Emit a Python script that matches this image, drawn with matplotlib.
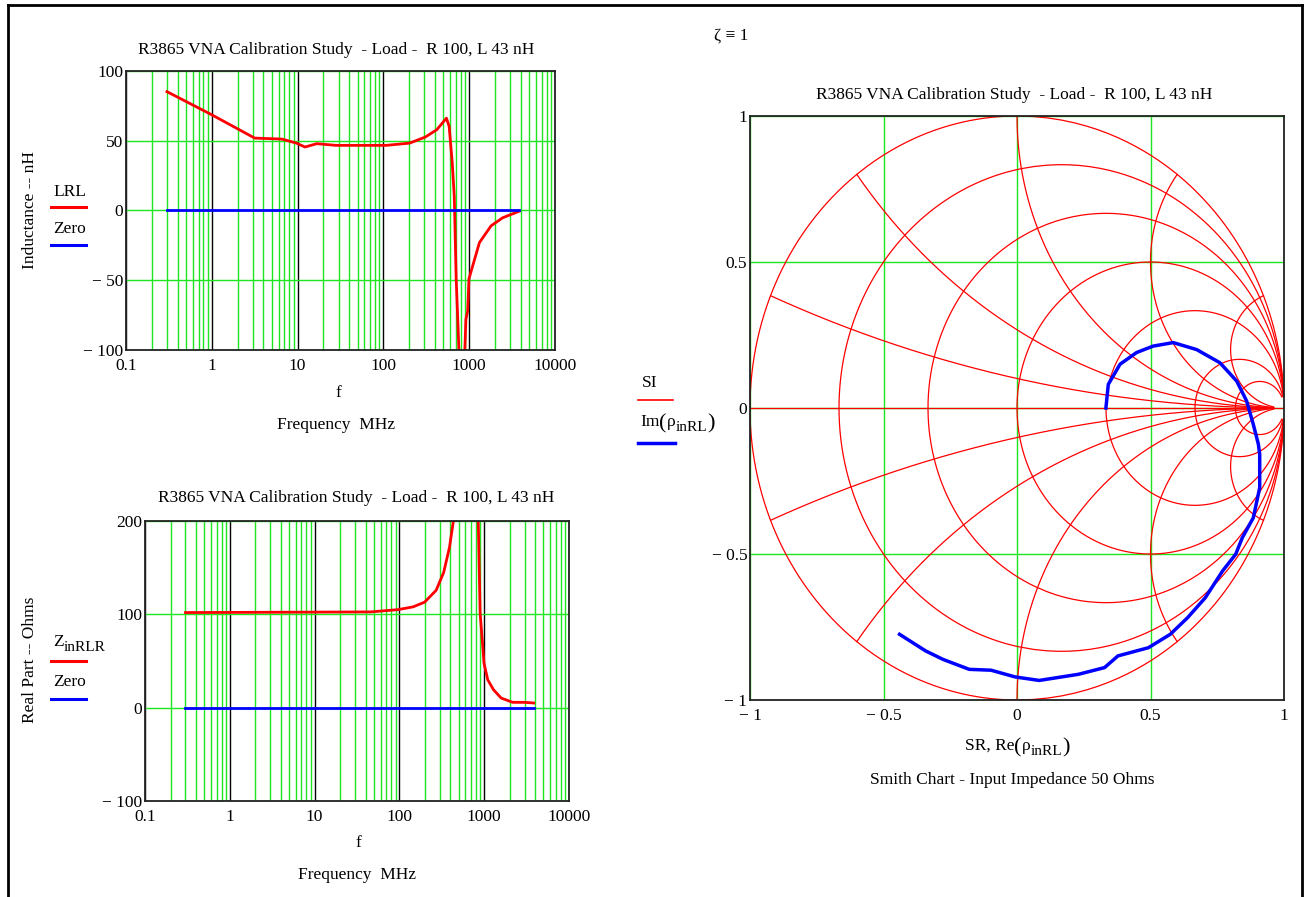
import numpy as np
import matplotlib
matplotlib.use('Agg')
import matplotlib.pyplot as plt
from matplotlib.lines import Line2D

plt.rcParams['font.family'] = ['Liberation Serif', 'DejaVu Serif']

# ---- data ----
# top plot: inductance LRL (nH) vs frequency (MHz)
f_L = [0.3, 1.0, 3.16, 6.55, 9.7, 12.2, 16.7, 28, 108, 202, 307, 419, 543,
       584, 635, 670, 705, 743, 790, 868, 915, 960, 993, 1316, 1798, 2455, 3838]
LRL = [85.2, 68.6, 51.9, 51.2, 48.3, 45.5, 47.9, 46.7, 46.7, 48.3, 52.6, 57.9,
       66.2, 60.2, 34, 10, -49, -85, -130, -120, -78, -72, -49, -23, -11, -5.2, -0.5]

# bottom plot: real part of Z_inRLR (Ohms) vs frequency (MHz)
f_R = [0.3, 46, 95.7, 145, 198, 271, 333, 390, 433, 600, 851, 896, 963, 994,
       1102, 1288, 1585, 2170, 2960, 3838]
ZinRLR = [101.9, 102.6, 105, 108, 113, 125.7, 145, 172, 200, 900, 200, 100.8,
          65, 47.6, 29.8, 19.2, 10.3, 5.7, 5.7, 5.0]

zero_f = [0.3, 3838]
zero_v = [0, 0]

# reflection coefficient rho_inRL on the Smith chart
rho_re = [0.333, 0.342, 0.386, 0.448, 0.51, 0.585, 0.673, 0.76, 0.823, 0.86,
          0.885, 0.904, 0.909, 0.909, 0.885, 0.844, 0.819, 0.77, 0.705, 0.639,
          0.574, 0.492, 0.378, 0.328, 0.23, 0.083, -0.007, -0.097, -0.179,
          -0.277, -0.342, -0.44]
rho_im = [0.0, 0.081, 0.15, 0.19, 0.212, 0.224, 0.2, 0.155, 0.092, 0.024,
          -0.056, -0.124, -0.159, -0.273, -0.376, -0.444, -0.501, -0.558, -0.65,
          -0.718, -0.775, -0.821, -0.849, -0.889, -0.912, -0.933, -0.921, -0.898,
          -0.895, -0.861, -0.832, -0.775]

# Smith chart grid values
r_vals = [0, 0.2, 0.5, 1, 2, 5, 10]
x_vals = [0.2, 0.5, 1, 2, 5, -0.2, -0.5, -1, -2, -5]
r_max = 50

W, H = 1305, 897
GREEN = '#1ee61e'
RED = '#ff0000'
BLUE = '#0000ff'
FS = 12.5


def px(x, y):
    return x / W, 1 - y / H


fig = plt.figure(figsize=(W / 100, H / 100), dpi=100)
renderer = fig.canvas.get_renderer()


def rich(x, y, parts, center=False):
    # parts: (text, fontsize, baseline shift in px, downwards positive)
    texts = []
    cur = x
    for s, size, dy in parts:
        t = fig.text(cur / W, 1 - (y + dy) / H, s, fontsize=size, ha='left', va='baseline')
        cur += t.get_window_extent(renderer).width
        texts.append(t)
    if center:
        shift = (cur - x) / 2
        for t in texts:
            tx, ty = t.get_position()
            t.set_position((tx - shift / W, ty))


# page border
fig.add_artist(Line2D([8 / W, 8 / W], [0, 1 - 5 / H], color='black', lw=2, transform=fig.transFigure))
fig.add_artist(Line2D([8 / W, 1302 / W], [1 - 5 / H, 1 - 5 / H], color='black', lw=2, transform=fig.transFigure))
fig.add_artist(Line2D([1302 / W, 1302 / W], [0, 1 - 5 / H], color='black', lw=2, transform=fig.transFigure))


def log_axes(rect, ylim, yticks, ylabels):
    ax = fig.add_axes(rect)
    ax.set_xscale('log')
    ax.set_xlim(0.1, 10000)
    ax.set_ylim(*ylim)
    ax.set_xticks([0.1, 1, 10, 100, 1000, 10000])
    ax.set_xticklabels(['0.1', '1', '10', '100', '1000', '10000'])
    ax.set_yticks(yticks)
    ax.set_yticklabels(ylabels)
    ax.grid(which='minor', axis='x', color=GREEN, lw=1)
    ax.grid(which='major', axis='x', color='black', lw=1)
    ax.grid(which='major', axis='y', color=GREEN, lw=1)
    ax.set_axisbelow(True)
    ax.tick_params(which='both', length=0, labelsize=FS)
    ax.tick_params(axis='x', pad=6)
    ax.tick_params(axis='y', pad=2)
    for s in ax.spines.values():
        s.set_color('#222222')
        s.set_linewidth(1.3)
    return ax


title = 'R3865 VNA Calibration Study  - Load -  R 100, L 43 nH'

# ---- top left: inductance ----
ax1 = log_axes([126 / W, 1 - 350 / H, 429 / W, 279 / H], (-100, 100),
               [-100, -50, 0, 50, 100], ['\u2212 100', '\u2212 50', '0', '50', '100'])
ax1.plot(f_L, LRL, color=RED, lw=2)
ax1.plot(zero_f, zero_v, color=BLUE, lw=2)
fig.text(*px(336, 50), title, ha='center', va='center', fontsize=FS)
fig.text(*px(338, 393), 'f', ha='center', va='center', fontsize=FS)
fig.text(*px(336, 425), 'Frequency  MHz', ha='center', va='center', fontsize=FS)
fig.text(*px(30, 210), 'Inductance -- nH', ha='center', va='center', rotation=90, fontsize=FS)
fig.text(*px(53, 192), 'LRL', ha='left', va='center', fontsize=FS)
fig.add_artist(Line2D([51 / W, 86 / W], [1 - 207 / H] * 2, color=RED, lw=2.2, transform=fig.transFigure))
fig.text(*px(53, 229), 'Zero', ha='left', va='center', fontsize=FS)
fig.add_artist(Line2D([51 / W, 86 / W], [1 - 245 / H] * 2, color=BLUE, lw=2.2, transform=fig.transFigure))

# ---- bottom left: real part ----
ax2 = log_axes([145 / W, 1 - 801 / H, 424 / W, 280 / H], (-100, 200),
               [-100, 0, 100, 200], ['\u2212 100', '0', '100', '200'])
ax2.plot(f_R, ZinRLR, color=RED, lw=2)
ax2.plot(zero_f, zero_v, color=BLUE, lw=2)
fig.text(*px(356, 498), title, ha='center', va='center', fontsize=FS)
fig.text(*px(358, 843), 'f', ha='center', va='center', fontsize=FS)
fig.text(*px(357, 875), 'Frequency  MHz', ha='center', va='center', fontsize=FS)
fig.text(*px(30, 660), 'Real Part -- Ohms', ha='center', va='center', rotation=90, fontsize=FS)
rich(53, 646, [('Z', FS, 0), ('inRLR', 11, 5)])
fig.add_artist(Line2D([51 / W, 86 / W], [1 - 661 / H] * 2, color=RED, lw=2.2, transform=fig.transFigure))
fig.text(*px(53, 682), 'Zero', ha='left', va='center', fontsize=FS)
fig.add_artist(Line2D([51 / W, 86 / W], [1 - 699 / H] * 2, color=BLUE, lw=2.2, transform=fig.transFigure))

# ---- right: Smith chart ----
ax3 = fig.add_axes([750 / W, 1 - 700 / H, 534 / W, 584 / H])
ax3.set_xlim(-1, 1)
ax3.set_ylim(-1, 1)
ticks = [-1, -0.5, 0, 0.5, 1]
tlabels = ['\u2212 1', '\u2212 0.5', '0', '0.5', '1']
ax3.set_xticks(ticks)
ax3.set_xticklabels(tlabels)
ax3.set_yticks(ticks)
ax3.set_yticklabels(tlabels)
ax3.grid(color=GREEN, lw=1)
ax3.set_axisbelow(True)
ax3.tick_params(length=0, labelsize=FS)
ax3.tick_params(axis='x', pad=6)
ax3.tick_params(axis='y', pad=2)
for s in ax3.spines.values():
    s.set_color('#222222')
    s.set_linewidth(1.3)

xs = np.concatenate([np.linspace(-r_max, -1, 800), np.linspace(-1, 1, 800), np.linspace(1, r_max, 800)])
for r in r_vals:
    z = r + 1j * xs
    g = (z - 1) / (z + 1)
    ax3.plot(g.real, g.imag, color=RED, lw=0.9)
rs = np.concatenate([np.linspace(0, 2, 600), np.linspace(2, r_max, 1500)])
for x in x_vals:
    z = rs + 1j * x
    g = (z - 1) / (z + 1)
    ax3.plot(g.real, g.imag, color=RED, lw=0.9)
ax3.plot([-1, 1], [0, 0], color=RED, lw=0.9)

ax3.plot(rho_re, rho_im, color=BLUE, lw=2.5)

fig.text(*px(1014, 95), title, ha='center', va='center', fontsize=FS)
rich(1017, 750, [('SR, Re', FS, 0), ('(', 16, 2), ('\u03c1', FS, 0), ('inRL', 11, 5), (')', 16, 2)], center=True)
fig.text(*px(1012, 780), 'Smith Chart - Input Impedance 50 Ohms', ha='center', va='center', fontsize=FS)
fig.text(*px(714, 35), '\u03b6 \u2261 1', ha='left', va='center', fontsize=FS)
fig.text(*px(642, 383), 'SI', ha='left', va='center', fontsize=FS)
fig.add_artist(Line2D([638 / W, 673 / W], [1 - 400 / H] * 2, color=RED, lw=1.2, transform=fig.transFigure))
rich(640, 426, [('Im', FS, 0), ('(', 16, 2), ('\u03c1', FS, 0), ('inRL', 11, 5), (')', 16, 2)])
fig.add_artist(Line2D([638 / W, 675 / W], [1 - 443 / H] * 2, color=BLUE, lw=2.5, transform=fig.transFigure))

fig.savefig('out.png', dpi=100)
